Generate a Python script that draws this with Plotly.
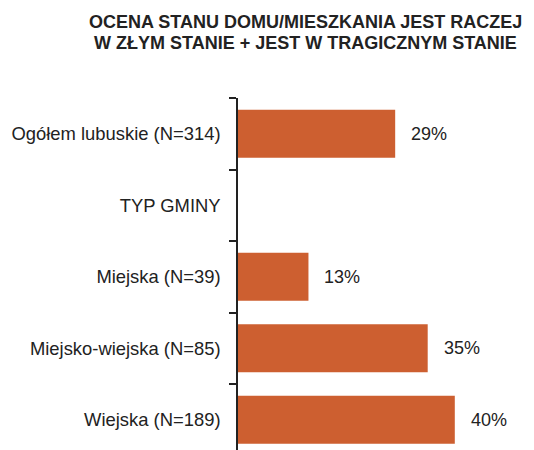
import plotly.graph_objects as go

categories = ["Ogółem lubuskie (N=314)", "TYP GMINY", "Miejska (N=39)",
              "Miejsko-wiejska (N=85)", "Wiejska (N=189)"]
values = [29, None, 13, 35, 40]
title_lines = ["OCENA STANU DOMU/MIESZKANIA JEST RACZEJ",
               "W ZŁYM STANIE + JEST W TRAGICZNYM STANIE"]

bar_color = "#CD5F30"
text_color = "#222222"
font_family = "Liberation Sans, Arial, Helvetica, sans-serif"

# page has an 8px body margin; figure sized to fit the 534x450 window
W, H = 526, 442
ML, MR, MT, MB = 230, 25, 90, 0
PW, PH = W - ML - MR, H - MT - MB

fig = go.Figure()
fig.add_trace(go.Bar(
    x=values, y=categories, orientation="h",
    marker=dict(color=bar_color, line=dict(width=0)),
    hoverinfo="skip",
))

for c, v in zip(categories, values):
    if v is None:
        continue
    fig.add_annotation(x=v, y=c, text=f"{v}%", showarrow=False,
                       xanchor="left", yanchor="middle", xshift=14,
                       font=dict(size=18, color=text_color, family=font_family))

title_cx = 297  # figure px
title_cy = [14, 35]
for line, cy in zip(title_lines, title_cy):
    fig.add_annotation(text="<b>" + line + "</b>", showarrow=False,
                       xref="paper", yref="paper",
                       x=(title_cx - ML) / PW, y=1 + (MT - cy) / PH,
                       xanchor="center", yanchor="middle",
                       font=dict(size=18, color=text_color, family=font_family))

fig.update_layout(
    width=W, height=H,
    margin=dict(l=ML, r=MR, t=MT, b=MB, autoexpand=False),
    paper_bgcolor="white", plot_bgcolor="white",
    bargap=0.33,
    showlegend=False,
    font=dict(family=font_family, size=18, color=text_color),
)
fig.update_xaxes(range=[0, 50], visible=False, showgrid=False, zeroline=False)
fig.update_yaxes(
    type="category", range=[4.423, -0.5],
    showline=True, linecolor="#222222", linewidth=1.5,
    ticks="outside", ticklen=7, tickwidth=1.5, tickcolor="#222222",
    tickson="boundaries", ticklabelstandoff=12,
    showgrid=False, zeroline=False,
    tickfont=dict(size=18.4, color=text_color, family=font_family),
)

fig.write_html("out.html")
